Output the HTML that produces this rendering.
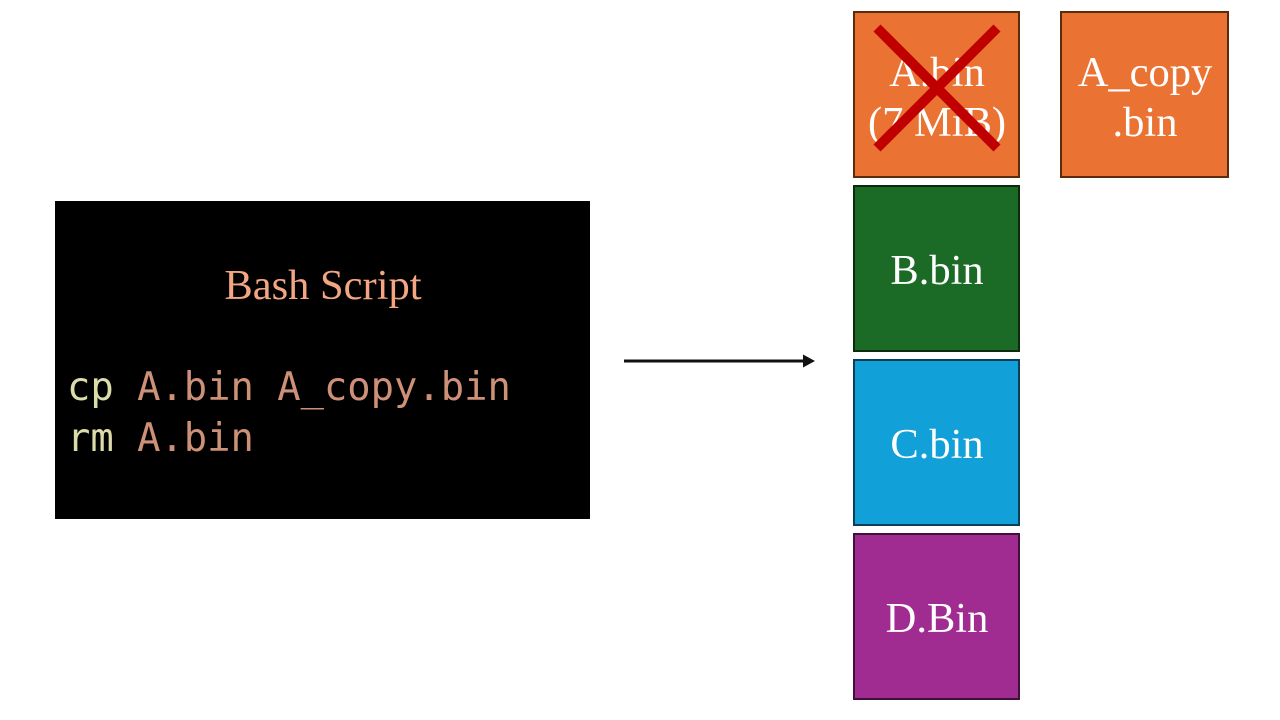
<!DOCTYPE html>
<html><head><meta charset="utf-8"><style>html,body{margin:0;padding:0;background:#fff}svg{display:block}</style></head>
<body>
<svg width="1280" height="720" viewBox="0 0 1280 720" xmlns="http://www.w3.org/2000/svg">
<rect x="55" y="201" width="535" height="318" fill="#000"/>
<text x="323" y="299" text-anchor="middle" font-family="Liberation Serif, serif" font-size="42.5" fill="#F4A582">Bash Script</text>
<g font-family="DejaVu Sans Mono, monospace" font-size="38.8">
<text x="67" y="400"><tspan fill="#DCDCAA">cp </tspan><tspan fill="#CE9178">A.bin A_copy.bin</tspan></text>
<text x="67" y="451"><tspan fill="#DCDCAA">rm </tspan><tspan fill="#CE9178">A.bin</tspan></text>
</g>
<line x1="624" y1="361" x2="806" y2="361" stroke="#111" stroke-width="3"/>
<polygon points="803,354.5 815,361 803,367.5" fill="#111"/>
<g font-family="Liberation Serif, serif" font-size="42.5" fill="#fff" text-anchor="middle">
<rect x="854" y="12" width="165" height="165" fill="#EA7334" stroke="#5B2B0C" stroke-width="2"/>
<text x="937" y="86">A.bin</text><text x="937" y="136">(7 MiB)</text>
<rect x="1061" y="12" width="167" height="165" fill="#EA7334" stroke="#5B2B0C" stroke-width="2"/>
<text x="1145" y="86">A_copy</text><text x="1145" y="136">.bin</text>
<rect x="854" y="186" width="165" height="165" fill="#1B6A25" stroke="#0B2A0E" stroke-width="2"/>
<text x="937" y="284">B.bin</text>
<rect x="854" y="360" width="165" height="165" fill="#11A0D7" stroke="#0B3F57" stroke-width="2"/>
<text x="937" y="458">C.bin</text>
<rect x="854" y="534" width="165" height="165" fill="#A02B91" stroke="#41103A" stroke-width="2"/>
<text x="937" y="632">D.Bin</text>
</g>
<g stroke="#C00000" stroke-width="10">
<line x1="877" y1="28" x2="997" y2="148"/>
<line x1="997" y1="28" x2="877" y2="148"/>
</g>
</svg>
</body></html>
